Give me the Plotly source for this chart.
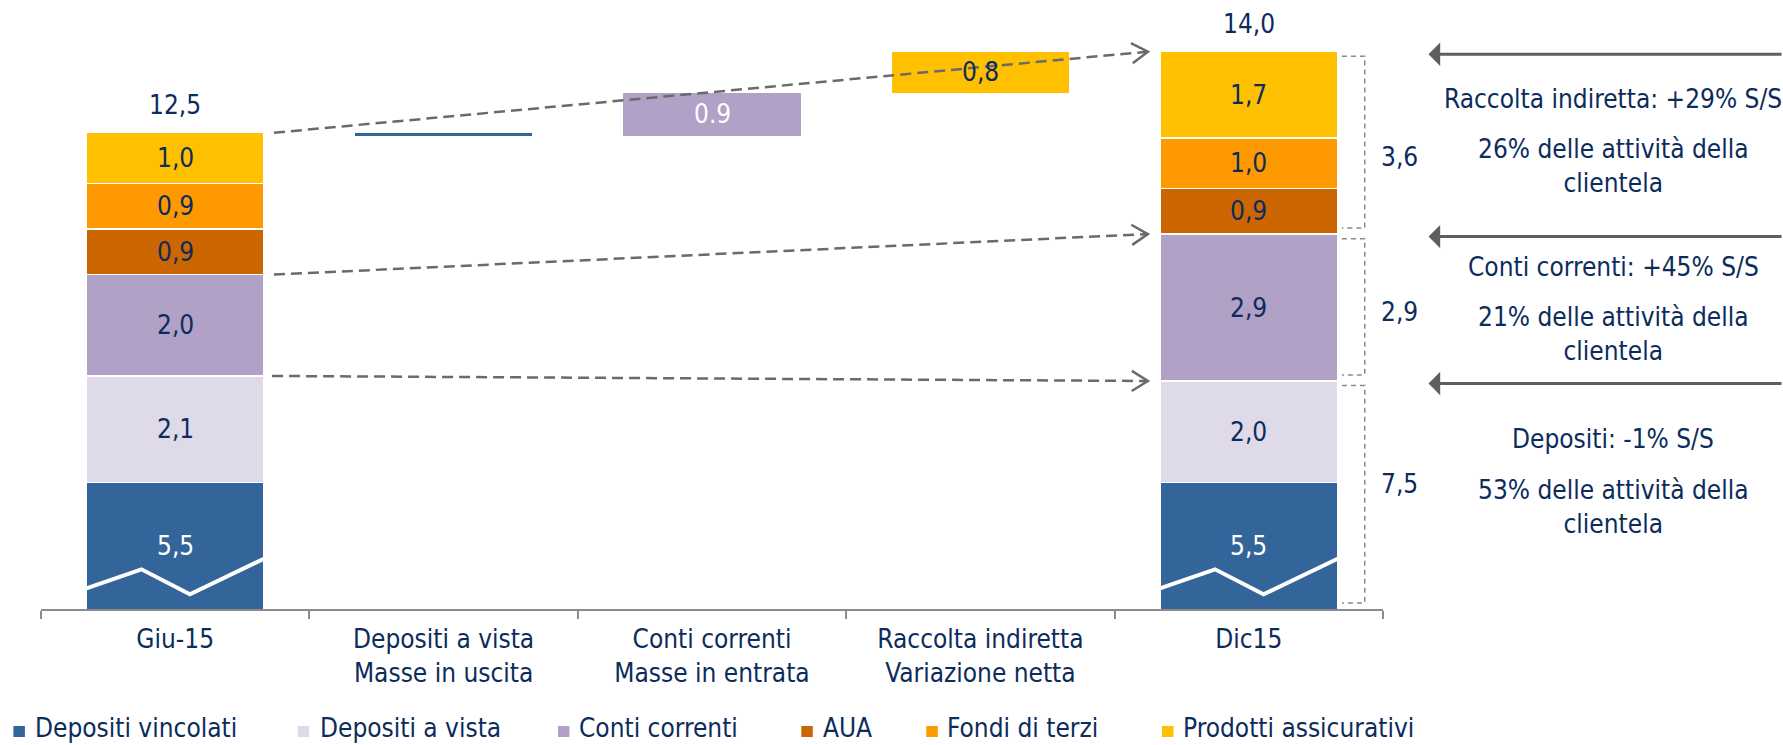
import math
import plotly.graph_objects as go

# ---------------- data ----------------
categorie = ["Giu-15", "Depositi a vista<br>Masse in uscita", "Conti correnti<br>Masse in entrata",
             "Raccolta indiretta<br>Variazione netta", "Dic15"]
serie = ["Depositi vincolati", "Depositi a vista", "Conti correnti", "AUA", "Fondi di terzi",
         "Prodotti assicurativi"]
giu15 = [5.5, 2.1, 2.0, 0.9, 0.9, 1.0]
dic15 = [5.5, 2.0, 2.9, 0.9, 1.0, 1.7]
totali = [12.5, 14.0]
variazioni = [-0.06, 0.85, 0.8]
etichette_variazioni = ["", "0.9", "0,8"]
gruppi = [(3, 6), (2, 3), (0, 2)]  # Raccolta indiretta, Conti correnti, Depositi (series index ranges)
titoli_gruppi = ["Raccolta indiretta: +29% S/S", "Conti correnti: +45% S/S", "Depositi: -1% S/S"]
quote_gruppi = ["26% delle attività della<br>clientela", "21% delle attività della<br>clientela",
                "53% delle attività della<br>clientela"]

# ---------------- style ----------------
colori = ["#33649A", "#DFDAE8", "#B1A1C7", "#CC6600", "#FF9900", "#FFC000"]
colori_var = ["#33649A", "#B1A1C7", "#FFC000"]
NAVY = "#0C2C5C"
FONT = "DejaVu Sans Condensed, DejaVu Sans, sans-serif"
W, H = 1783, 745
ML, MR, MT, MB = 41, 400, 1, 136
PW, PH = W - ML - MR, H - MT - MB
Y0, Y1 = 3.0, 15.0          # broken axis: bottom starts at 3.0
PXX = PW / 5.0              # px per category
PXY = PH / (Y1 - Y0)        # px per unit
BW = 0.662                  # bar width (category units)


def fmt(v):
    return f"{v:.1f}".replace(".", ",")


def paper_x(px):
    return (px - ML) / PW


def paper_y(py):
    return (MT + PH - py) / PH


def fnt(size, color=NAVY):
    return dict(size=size, color=color, family=FONT)


fig = go.Figure()

# stacked bars Giu-15 / Dic15
for i, nome in enumerate(serie):
    fig.add_trace(go.Bar(
        x=[categorie[0], categorie[-1]], y=[giu15[i], dic15[i]], name=nome,
        marker=dict(color=colori[i], line=dict(color="white", width=1.5)),
        width=BW, showlegend=False, hoverinfo="skip"))

# waterfall steps
basi = []
livello = sum(giu15)
for v in variazioni:
    basi.append(livello)
    livello += v
fig.add_trace(go.Bar(
    x=categorie[1:4], y=variazioni, base=basi,
    marker=dict(color=colori_var, line=dict(width=0)),
    width=BW, showlegend=False, hoverinfo="skip"))

ann = []
# segment labels
for k, valori in ((0, giu15), (4, dic15)):
    cum = 0.0
    for i, v in enumerate(valori):
        lo, hi = max(cum, Y0), cum + v
        ann.append(dict(x=categorie[k], y=(lo + hi) / 2, xref="x", yref="y", text=fmt(v),
                        showarrow=False, yanchor="middle", font=fnt(26, "white" if i == 0 else NAVY)))
        cum += v
    ann.append(dict(x=categorie[k], y=cum, xref="x", yref="y", text=fmt(totali[0 if k == 0 else 1]),
                    showarrow=False, yanchor="middle", yshift=28, font=fnt(26)))

# waterfall labels
for j, v in enumerate(variazioni):
    if etichette_variazioni[j]:
        ann.append(dict(x=categorie[j + 1], y=basi[j] + v / 2, xref="x", yref="y",
                        text=etichette_variazioni[j], showarrow=False, yanchor="middle",
                        font=fnt(26, "white" if j == 1 else NAVY)))

# break marker (zigzag) on bottom segments
zz_fx = [0.0, 0.31, 0.583, 1.0]
zz_py = [20.7, 39.7, 14.7, 50.3]
for k in (0, 4):
    fig.add_trace(go.Scatter(
        x=[k - BW / 2 + f * BW for f in zz_fx], y=[Y0 + p / PXY for p in zz_py],
        xaxis="x2", yaxis="y", mode="lines", line=dict(color="white", width=4),
        showlegend=False, hoverinfo="skip"))


# dashed arrows connecting equivalent levels
def cum_at(vals, n):
    return sum(vals[:n])


livelli = [(len(giu15), 0.037), (3, 0.037), (2, 0.03)]
for n, gap in livelli:
    ya, yb = cum_at(giu15, n), cum_at(dic15, n)
    xa = 0 + BW / 2 + gap
    xb = 4 - BW / 2 - 0.045
    fig.add_trace(go.Scatter(x=[xa, xb], y=[ya, yb], xaxis="x2", yaxis="y", mode="lines",
                             line=dict(color="#6A6A6A", width=2.5, dash="11px,6px"),
                             showlegend=False, hoverinfo="skip"))
    dxp, dyp = (xb - xa) * PXX, (yb - ya) * PXY
    ln = math.hypot(dxp, dyp)
    ux, uy = dxp / ln, dyp / ln
    px_, py_ = [], []
    for s in (1, -1):
        ang = math.radians(32) * s
        rx = ux * math.cos(ang) - uy * math.sin(ang)
        ry = ux * math.sin(ang) + uy * math.cos(ang)
        px_.append(xb - 19 * rx / PXX)
        py_.append(yb - 19 * ry / PXY)
    fig.add_trace(go.Scatter(x=[px_[0], xb, px_[1]], y=[py_[0], yb, py_[1]], xaxis="x2", yaxis="y",
                             mode="lines", line=dict(color="#6A6A6A", width=2.5),
                             showlegend=False, hoverinfo="skip"))

# brackets on the right of Dic15 + right-hand commentary
spost = [-0.3, -0.1, 0.2]
pos_titoli = [99.3, 266.7, 439.3]
pos_quote = [166.3, 334.0, 507.0]
for g, (a, b) in enumerate(gruppi):
    lo, hi = max(cum_at(dic15, a), Y0), cum_at(dic15, b)
    top, bot = hi - 0.09, lo + 0.12
    xh, xv = 4 + 0.347, 4 + 0.432
    fig.add_trace(go.Scatter(x=[xh, xv, xv, xh], y=[top, top, bot, bot], xaxis="x2", yaxis="y",
                             mode="lines", line=dict(color="#8A8A8A", width=1.5, dash="5px,4px"),
                             showlegend=False, hoverinfo="skip"))
    ann.append(dict(x=paper_x(1379), y=(top + bot) / 2 + spost[g], xref="paper", yref="y",
                    text=fmt(sum(dic15[a:b])), showarrow=False, xanchor="left", yanchor="middle",
                    font=fnt(26)))
    # arrows coming from the right edge
    ann.append(dict(x=paper_x(1428.5), y=hi - 0.05, xref="paper", yref="y", text="",
                    showarrow=True, ax=370, ay=0, axref="pixel", ayref="pixel",
                    arrowhead=1, arrowsize=1.3, arrowwidth=3, arrowcolor="#5E5E5E"))
    ann.append(dict(x=paper_x(1613), y=paper_y(pos_titoli[g]), xref="paper", yref="paper",
                    text=titoli_gruppi[g], showarrow=False, xanchor="center", yanchor="middle",
                    font=fnt(26)))
    ann.append(dict(x=paper_x(1613), y=paper_y(pos_quote[g]), xref="paper", yref="paper",
                    text=quote_gruppi[g], showarrow=False, xanchor="center", yanchor="middle",
                    font=fnt(26)))

# manual legend
leg_sq = [13.4, 297.7, 558.0, 801.3, 926.3, 1162.0]
leg_tx = [32.5, 317.6, 576.5, 821.0, 945.4, 1181.4]
shapes = []
for i, nome in enumerate(serie):
    shapes.append(dict(type="rect", xref="paper", yref="paper",
                       x0=paper_x(leg_sq[i]), x1=paper_x(leg_sq[i] + 11.5),
                       y0=paper_y(737), y1=paper_y(726), fillcolor=colori[i], line=dict(width=0)))
    ann.append(dict(x=paper_x(leg_tx[i]), y=paper_y(745), xref="paper", yref="paper", text=nome,
                    showarrow=False, xanchor="left", yanchor="bottom",
                    font=fnt(26)))

fig.update_layout(
    width=W, height=H, margin=dict(l=ML, r=MR, t=MT, b=MB, pad=0),
    paper_bgcolor="white", plot_bgcolor="white", barmode="stack",
    font=dict(family=FONT, color=NAVY),
    xaxis=dict(type="category", categoryorder="array", categoryarray=categorie, range=[-0.5, 4.5],
               showline=True, linecolor="#8C8C8C", linewidth=2, ticks="outside", tickson="boundaries",
               ticklen=8, tickwidth=2, tickcolor="#8C8C8C", showgrid=False, zeroline=False,
               ticklabelstandoff=6, tickfont=fnt(26)),
    xaxis2=dict(overlaying="x", range=[-0.5, 4.5], visible=False, showgrid=False, zeroline=False),
    yaxis=dict(range=[Y0, Y1], visible=False, showgrid=False, zeroline=False),
    annotations=ann, shapes=shapes, showlegend=False,
)

fig.write_html("out.html", config={"displayModeBar": False},
               post_script="document.body.style.margin='0';document.body.style.overflow='hidden';")
